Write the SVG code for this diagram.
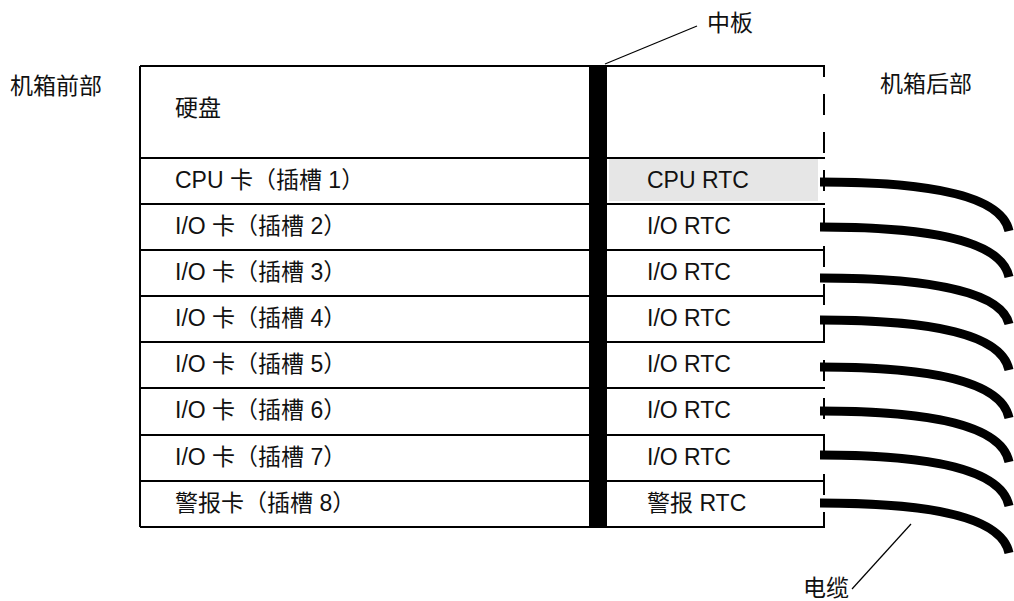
<svg xmlns="http://www.w3.org/2000/svg" width="1014" height="601" viewBox="0 0 1014 601">
<style>
.t{font-family:"Liberation Sans","Noto Sans CJK SC",sans-serif;font-size:23px;fill:#111}
.ln{stroke:#000;stroke-width:2;fill:none}
.cab{stroke:#000;stroke-width:9;fill:none;stroke-linecap:butt}
.lead{stroke:#000;stroke-width:1.2;fill:none}
</style>
<rect width="1014" height="601" fill="#fff"/>
<g id="labels">
<text class="t" x="10" y="94">机箱前部</text>
<text class="t" x="880" y="92">机箱后部</text>
<text class="t" x="707" y="31">中板</text>
<text class="t" x="803" y="596">电缆</text>
</g>
<g id="chassis">
<rect x="609" y="159" width="209" height="42" fill="#e6e6e6"/>
<path class="ln" d="M140,66H825M140,158H825M140,204H825M140,250H825M140,296H825M140,342H825M140,388H825M140,435H825M140,481H825M140,527H825M140,66V527"/>
<line x1="824" y1="66" x2="824" y2="527" stroke="#000" stroke-width="2" stroke-dasharray="21 17" stroke-dashoffset="10"/>
<rect id="midplane" x="589" y="66" width="18" height="461" fill="#000"/>
</g>
<g id="disk"><text class="t" x="175" y="116">硬盘</text></g>
<g id="slot1"><text class="t" x="175" y="188">CPU 卡（插槽 1）</text><text class="t" x="647" y="188">CPU RTC</text></g>
<g id="slot2"><text class="t" x="175" y="234">I/O 卡（插槽 2）</text><text class="t" x="647" y="234">I/O RTC</text></g>
<g id="slot3"><text class="t" x="175" y="280">I/O 卡（插槽 3）</text><text class="t" x="647" y="280">I/O RTC</text></g>
<g id="slot4"><text class="t" x="175" y="326">I/O 卡（插槽 4）</text><text class="t" x="647" y="326">I/O RTC</text></g>
<g id="slot5"><text class="t" x="175" y="372">I/O 卡（插槽 5）</text><text class="t" x="647" y="372">I/O RTC</text></g>
<g id="slot6"><text class="t" x="175" y="418">I/O 卡（插槽 6）</text><text class="t" x="647" y="418">I/O RTC</text></g>
<g id="slot7"><text class="t" x="175" y="465">I/O 卡（插槽 7）</text><text class="t" x="647" y="465">I/O RTC</text></g>
<g id="slot8"><text class="t" x="175" y="511">警报卡（插槽 8）</text><text class="t" x="647" y="511">警报 RTC</text></g>
<g id="connectors">
<path class="cab" d="M820,182 C895,182 1000,188 1009,231"/>
<path class="cab" d="M820,227 C895,227 1000,233 1009,277"/>
<path class="cab" d="M820,278 C895,278 1000,284 1009,324"/>
<path class="cab" d="M820,320 C895,320 1000,326 1009,370"/>
<path class="cab" d="M820,367 C895,367 1000,373 1009,418"/>
<path class="cab" d="M820,411 C895,411 1000,417 1009,462"/>
<path class="cab" d="M820,455 C895,455 1000,461 1009,506"/>
<path class="cab" d="M820,503 C895,503 1000,509 1009,553"/>
<line class="lead" x1="605" y1="64" x2="697" y2="26"/>
<line class="lead" x1="911" y1="524" x2="852" y2="589"/>
</g>
</svg>
